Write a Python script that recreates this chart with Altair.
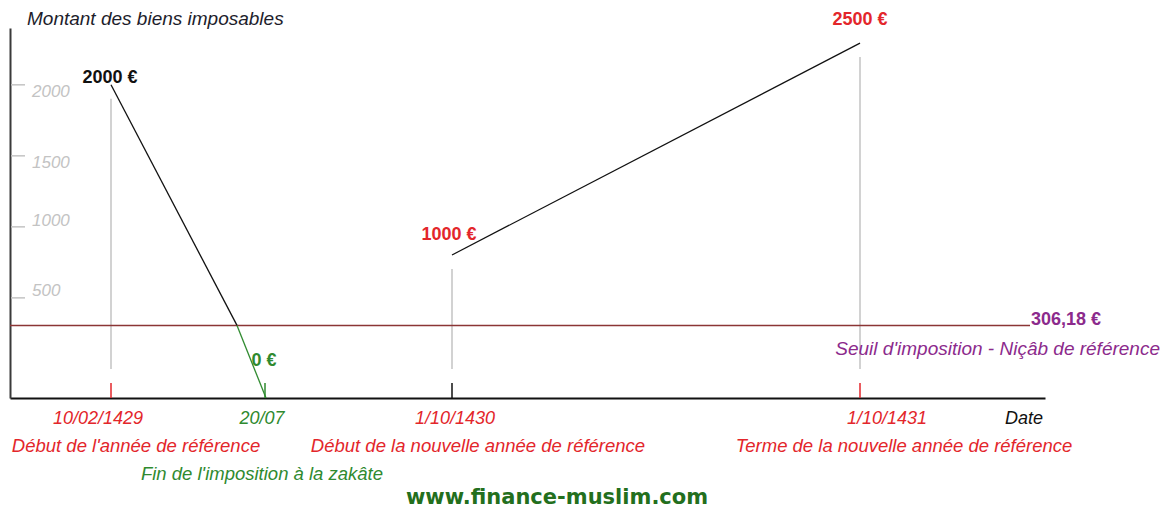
import altair as alt
import pandas as pd

# ---------------- data ----------------
# timeline positions are in the drawing's own horizontal units (axis start = 0)
key_dates = ["10/02/1429", "20/07", "1/10/1430", "1/10/1431"]
key_pos = [101, 255, 442, 850]
key_captions = [
    "Début de l'année de référence",
    "Fin de l'imposition à la zakâte",
    "Début de la nouvelle année de référence",
    "Terme de la nouvelle année de référence",
]

# amount of taxable assets (as drawn against the y axis)
fall_pos = [101, 227, 256]
fall_amount = [2000, 306.18, -205]
rise_pos = [442, 850]
rise_amount = [802, 2294]

value_labels = ["2000 €", "0 €", "1000 €", "2500 €"]
value_pos = [101, 255, 442, 850]
value_amount = [2000, -205, 802, 2294]

guide_pos = [101, 442, 850]
guide_amount = [2000, 802, 2294]

threshold = 306.18
threshold_label = "306,18 €"
threshold_caption = "Seuil d'imposition - Niçâb de référence"

y_ticks = [500, 1000, 1500, 2000]

# ---------------- styles ----------------
RED = "#e3262b"
GREEN = "#2f8a2f"
PURPLE = "#8c2a8c"
BLACK = "#111111"
GRAY = "#c3c3c3"
FONT = "Liberation Sans"

date_colors = [RED, GREEN, RED, RED]
tick_colors = [RED, GREEN, BLACK, RED]
caption_colors = [RED, GREEN, RED, RED]
value_colors = [BLACK, GREEN, RED, RED]

date_dx = [-13, -3, 3, 27]
caption_dx = [25, -3, 26, 44]
caption_row_y = [418, 446, 418, 418]
value_dx = [-1, -1, -3, 0]
value_dy = [-7, -37, -20, -23]
ytick_dy = [-7, -6, 7, 7]

W, H = 1035, 370
xs = alt.Scale(domain=[0, 1035], nice=False, zero=False)
ys = alt.Scale(domain=[-205, 2400], nice=False, zero=False)
x_axis = alt.Axis(domain=True, domainColor=BLACK, domainWidth=2, ticks=False,
                  labels=False, grid=False, title=None)
y_axis = alt.Axis(domain=True, domainColor="#3a3a3a", domainWidth=2, ticks=False,
                  labels=False, grid=False, title=None)
X = alt.X("pos:Q", scale=xs, axis=x_axis)
Y = alt.Y("amount:Q", scale=ys, axis=y_axis)

layers = []

# gray guide lines
guides = pd.DataFrame({"pos": guide_pos, "amount": guide_amount, "base": [0] * len(guide_pos)})
layers.append(
    alt.Chart(guides).mark_rule(color=GRAY, strokeWidth=1.5, yOffset=14)
    .encode(x=X, y=Y, y2="base:Q")
)

# threshold line
thr = pd.DataFrame({"pos": [0], "end": [1020], "amount": [threshold]})
layers.append(
    alt.Chart(thr).mark_rule(color="#8b3535", strokeWidth=1.5)
    .encode(x=X, x2="end:Q", y=Y)
)

# decline line (black above threshold, green below)
fall = pd.DataFrame({
    "pos": [fall_pos[0], fall_pos[1], fall_pos[1], fall_pos[2]],
    "amount": [fall_amount[0], fall_amount[1], fall_amount[1], fall_amount[2]],
    "seg": ["above", "above", "below", "below"],
    "col": [BLACK, BLACK, GREEN, GREEN],
})
layers.append(
    alt.Chart(fall).mark_line(strokeWidth=1.3)
    .encode(x=X, y=Y, detail="seg:N", color=alt.Color("col:N", scale=None))
)

# rise line
rise = pd.DataFrame({"pos": rise_pos, "amount": rise_amount})
layers.append(alt.Chart(rise).mark_line(strokeWidth=1.3, color=BLACK).encode(x=X, y=Y))

# x-axis ticks
kd = pd.DataFrame({"pos": key_pos, "tc": tick_colors})
layers.append(
    alt.Chart(kd).mark_rule(strokeWidth=1.5)
    .encode(x=X, y=alt.value(355), y2=alt.value(370), color=alt.Color("tc:N", scale=None))
)

# y-axis ticks (drawn inside the plot)
yt = pd.DataFrame({"amount": y_ticks, "lab": [str(v) for v in y_ticks]})
layers.append(
    alt.Chart(yt).mark_rule(color=GRAY, strokeWidth=1.5)
    .encode(x=alt.value(1), x2=alt.value(15), y=Y)
)
for i in range(len(y_ticks)):
    layers.append(
        alt.Chart(yt.iloc[[i]]).mark_text(font=FONT, fontSize=17, fontStyle="italic",
                                          color=GRAY, align="left", baseline="middle",
                                          dy=ytick_dy[i])
        .encode(x=alt.value(22), y=Y, text="lab:N")
    )

# value labels
vl = pd.DataFrame({"pos": value_pos, "amount": value_amount, "lab": value_labels})
for i in range(len(value_labels)):
    layers.append(
        alt.Chart(vl.iloc[[i]]).mark_text(font=FONT, fontSize=18, fontWeight="bold",
                                          color=value_colors[i], align="center",
                                          baseline="middle", dx=value_dx[i], dy=value_dy[i])
        .encode(x=X, y=Y, text="lab:N")
    )

# dates and captions under the axis
dd = pd.DataFrame({"pos": key_pos, "date": key_dates, "cap": key_captions})
for i in range(len(key_dates)):
    layers.append(
        alt.Chart(dd.iloc[[i]]).mark_text(font=FONT, fontSize=18, fontStyle="italic",
                                          color=date_colors[i], align="center",
                                          baseline="middle", dx=date_dx[i])
        .encode(x=X, y=alt.value(391), text="date:N")
    )
    layers.append(
        alt.Chart(dd.iloc[[i]]).mark_text(font=FONT, fontSize=18.5, fontStyle="italic",
                                          color=caption_colors[i], align="center",
                                          baseline="middle", dx=caption_dx[i])
        .encode(x=X, y=alt.value(caption_row_y[i]), text="cap:N")
    )

# threshold labels
tl = pd.DataFrame({"pos": [1020], "amount": [threshold], "lab": [threshold_label],
                   "cap": [threshold_caption]})
layers.append(
    alt.Chart(tl).mark_text(font=FONT, fontSize=18, fontWeight="bold", color=PURPLE,
                            align="left", baseline="middle", dx=1, dy=-5)
    .encode(x=X, y=Y, text="lab:N")
)
layers.append(
    alt.Chart(tl).mark_text(font=FONT, fontSize=19, fontStyle="italic", color=PURPLE,
                            align="right", baseline="middle", dy=24)
    .encode(x=alt.value(1150), y=Y, text="cap:N")
)

# titles / misc text
misc = pd.DataFrame({"t": ["Montant des biens imposables"]})
layers.append(
    alt.Chart(misc).mark_text(font=FONT, fontSize=19, fontStyle="italic", color="#1d1d2b",
                              align="left", baseline="middle")
    .encode(x=alt.value(17), y=alt.value(-9), text="t:N")
)
datel = pd.DataFrame({"t": ["Date"]})
layers.append(
    alt.Chart(datel).mark_text(font=FONT, fontSize=18, fontStyle="italic", color=BLACK,
                               align="left", baseline="middle")
    .encode(x=alt.value(995), y=alt.value(391), text="t:N")
)
site = pd.DataFrame({"t": ["www.finance-muslim.com"]})
layers.append(
    alt.Chart(site).mark_text(font="DejaVu Sans", fontSize=21, fontWeight="bold",
                              color="#236f1d", align="center", baseline="middle")
    .encode(x=alt.value(547), y=alt.value(470), text="t:N")
)

chart = (
    alt.layer(*layers)
    .properties(width=W, height=H, autosize=alt.AutoSizeParams(type="none"),
                padding={"left": 10, "top": 28, "right": 119, "bottom": 116},
                background="white")
    .configure_view(stroke=None)
)

chart.save("out.html", embed_options={"renderer": "svg", "actions": False})
